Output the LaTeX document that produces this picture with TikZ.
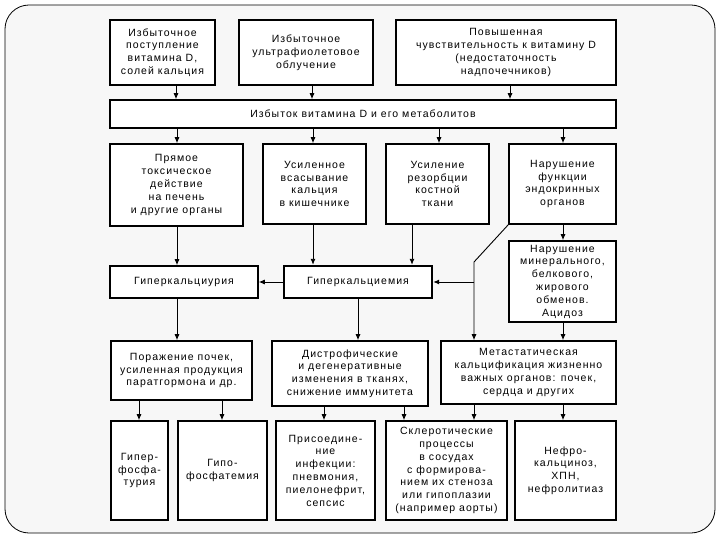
\documentclass[tikz,border=0pt]{standalone}
\usepackage{fontspec}
\setmainfont{Liberation Sans}[LetterSpace=10]
\usetikzlibrary{arrows.meta,calc}
\tikzset{
 bx/.style={draw, line width=1.6pt, fill=white, align=center, inner sep=1pt, font=\fontsize{10.5}{12.8}\selectfont},
 arr/.style={line width=0.9pt, -{Latex[length=6pt,width=5pt]}},
 ln/.style={line width=0.9pt},
}
\newcommand\mkbox[7][]{\node[bx,#1,minimum width={(#4-#2)*1pt},minimum height={(#5-#3)*1pt}] (#6) at ({(#2+#4)/2},{(#3+#5)/2}) {#7};}
\begin{document}
\begin{tikzpicture}[x=1pt,y=-1pt]
\useasboundingbox (0,0) rectangle (720,540);
\draw[line width=0.8pt, rounded corners=24pt, fill=black!3] (5,5) rectangle (715,533);
% top row
\mkbox{110}{20}{215}{85}{B1}{Избыточное\\поступление\\витамина D,\\солей кальция}
\mkbox{239}{20}{373}{85}{B2}{Избыточное\\ультрафиолетовое\\облучение}
\mkbox{396}{20}{616}{85}{B3}{Повышенная\\чувствительность к витамину D\\(недостаточность\\надпочечников)}
\mkbox{110}{100}{616}{128}{bar}{Избыток витамина D и его метаболитов}
% row 2
\mkbox{110}{144}{243}{226}{C1}{Прямое\\токсическое\\действие\\на печень\\и другие органы}
\mkbox{263}{144}{366}{224}{C2}{Усиленное\\всасывание\\кальция\\в кишечнике}
\mkbox{386}{144}{489}{224}{C3}{Усиление\\резорбции\\костной\\ткани}
\mkbox{509}{144}{616}{224}{C4}{Нарушение\\функции\\эндокринных\\органов}
\mkbox{509}{241}{616}{322}{C5}{Нарушение\\минерального,\\белкового,\\жирового\\обменов.\\Ацидоз}
% row 3
\mkbox{110}{266}{258}{298}{H1}{Гиперкальциурия}
\mkbox[line width=2.4pt]{284}{266}{432}{298}{H2}{Гиперкальциемия}
% row 4
\mkbox{111}{341}{252}{400}{D1}{Поражение почек,\\усиленная продукция\\паратгормона и др.}
\mkbox{272}{341}{428}{406}{D2}{Дистрофические\\и дегенеративные\\изменения в тканях,\\снижение иммунитета}
\mkbox{441}{341}{616}{404}{D3}{Метастатическая\\кальцификация жизненно\\важных органов: почек,\\сердца и других}
% row 5
\mkbox{111}{421}{168}{520}{E1}{Гипер-\\фосфа-\\турия}
\mkbox{178}{421}{267}{520}{E2}{Гипо-\\фосфатемия}
\mkbox{276}{421}{375}{520}{E3}{Присоедине-\\ние\\инфекции:\\пневмония,\\пиелонефрит,\\сепсис}
\mkbox{386}{421}{507}{520}{E4}{Склеротические\\процессы\\в сосудах\\с формирова-\\нием их стеноза\\или гипоплазии\\(например аорты)}
\mkbox{515}{421}{616}{520}{E5}{Нефро-\\кальциноз,\\ХПН,\\нефролитиаз}
% arrows top -> bar
\draw[arr] (B1.south -| 176,0) -- (bar.north -| 176,0);
\draw[arr] (B2.south -| 312,0) -- (bar.north -| 312,0);
\draw[arr] (B3.south -| 510,0) -- (bar.north -| 510,0);
% bar -> row 2
\draw[arr] (bar.south -| 177,0) -- (C1.north -| 177,0);
\draw[arr] (bar.south -| 313,0) -- (C2.north -| 313,0);
\draw[arr] (bar.south -| 439,0) -- (C3.north -| 439,0);
\draw[arr] (bar.south -| 563,0) -- (C4.north -| 563,0);
% row 2 -> row 3
\draw[arr] (C1.south -| 177,0) -- (H1.north -| 177,0);
\draw[arr] (C2.south -| 313,0) -- (H2.north -| 313,0);
\draw[arr] (C3.south -| 412,0) -- (H2.north -| 412,0);
\draw[arr] (C4.south -| 563,0) -- (C5.north -| 563,0);
\draw[arr] (H2.west) -- (H1.east);
\coordinate (J) at (474,262);
\draw[arr] (C4.south west) -- (J) -- (J |- D3.north);
\draw[arr] (J |- H2.east) -- (H2.east);
% row 3 -> row 4
\draw[arr] (H1.south -| 177,0) -- (D1.north -| 177,0);
\draw[arr] (H2.south -| 358,0) -- (D2.north -| 358,0);
\draw[arr] (C5.south -| 563,0) -- (D3.north -| 563,0);
% row 4 -> row 5
\draw[arr] (D1.south -| 139,0) -- (E1.north -| 139,0);
\draw[arr] (D1.south -| 222,0) -- (E2.north -| 222,0);
\draw[arr] (D2.south -| 324,0) -- (E3.north -| 324,0);
\draw[arr] (D2.south -| 404,0) -- (E4.north -| 404,0);
\draw[arr] (D3.south -| 474,0) -- (E4.north -| 474,0);
\draw[arr] (D3.south -| 563,0) -- (E5.north -| 563,0);
\end{tikzpicture}
\end{document}
